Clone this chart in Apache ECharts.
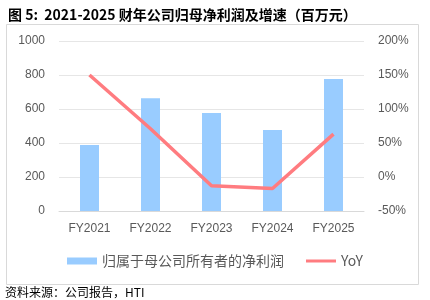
<!DOCTYPE html>
<html><head><meta charset="utf-8">
<script src="https://cdn.jsdelivr.net/npm/echarts@6/dist/echarts.min.js"></script>
<style>html,body{margin:0;padding:0;background:#fff}#c{width:430px;height:300px}</style>
</head><body><div id="c"></div>
<script>
var categories = ['FY2021','FY2022','FY2023','FY2024','FY2025'];
var netProfit = [388, 663, 576, 476, 776];
var yoy = [150, 71, -13, -17, 63];
var leftTicks = [0, 1000, 200];
var rightTicks = [-50, 200, 50];
var barName = '归属于母公司所有者的净利润';
var lineName = 'YoY';

var chart = echarts.init(document.getElementById('c'), null, {renderer:'canvas'});
var font = '"Noto Sans CJK SC", "Noto Sans", sans-serif';
var latin = '"Liberation Sans", sans-serif';
chart.setOption({
  animation: false,
  textStyle: {fontFamily: font},
  title: {
    text: '图 5:  2021-2025 财年公司归母净利润及增速（百万元）',
    left: 3, top: 3,
    textStyle: {fontSize: 14, fontWeight: 'bold', color: '#000', fontFamily: font}
  },
  graphic: [
    {type:'rect', shape:{x:6.5, y:24.5, width:412, height:260}, style:{fill:'none', stroke:'#d9d9d9', lineWidth:1}, z:-1},
    {type:'text', left: 5, top: 286, style:{text:'资料来源：公司报告，HTI', fontSize: 12, fill:'#000', fontFamily: font}}
  ],
  grid: {left: 59, right: 66, top: 41, bottom: 89},
  legend: {
    bottom: 27, left: 'center', itemGap: 22,
    itemWidth: 30, itemHeight: 7,
    textStyle: {fontSize: 14, color: '#595959', fontFamily: font},
    data: [
      {name: barName, icon: 'rect'},
      {name: lineName, icon: 'path://M0,0 L30,0 L30,3 L0,3 Z', itemStyle:{color:'#ff7c80'}}
    ]
  },
  xAxis: {
    type: 'category', data: categories,
    axisLine: {lineStyle: {color: '#d9d9d9'}},
    axisTick: {show: false},
    axisLabel: {color: '#595959', fontSize: 12, margin: 12, fontFamily: latin}
  },
  yAxis: [
    {type: 'value', min: leftTicks[0], max: leftTicks[1], interval: leftTicks[2],
     axisLine:{show:false}, axisTick:{show:false},
     splitLine:{lineStyle:{color:'#e6e6e6'}},
     axisLabel:{color:'#595959', fontSize:12, margin: 14, fontFamily: latin, formatter: function(v){return String(v);}}},
    {type: 'value', min: rightTicks[0], max: rightTicks[1], interval: rightTicks[2],
     axisLine:{show:false}, axisTick:{show:false}, splitLine:{show:false},
     axisLabel:{color:'#595959', fontSize:12, margin: 14, formatter: '{value}%', fontFamily: latin}}
  ],
  series: [
    {name: barName, type: 'bar', data: netProfit, barWidth: 19, itemStyle: {color: '#99ccff'}},
    {name: lineName, type: 'line', yAxisIndex: 1, data: yoy, symbol: 'none',
     lineStyle: {color: '#ff7c80', width: 3.5}, itemStyle:{color:'#ff7c80'}}
  ]
});
</script></body></html>
